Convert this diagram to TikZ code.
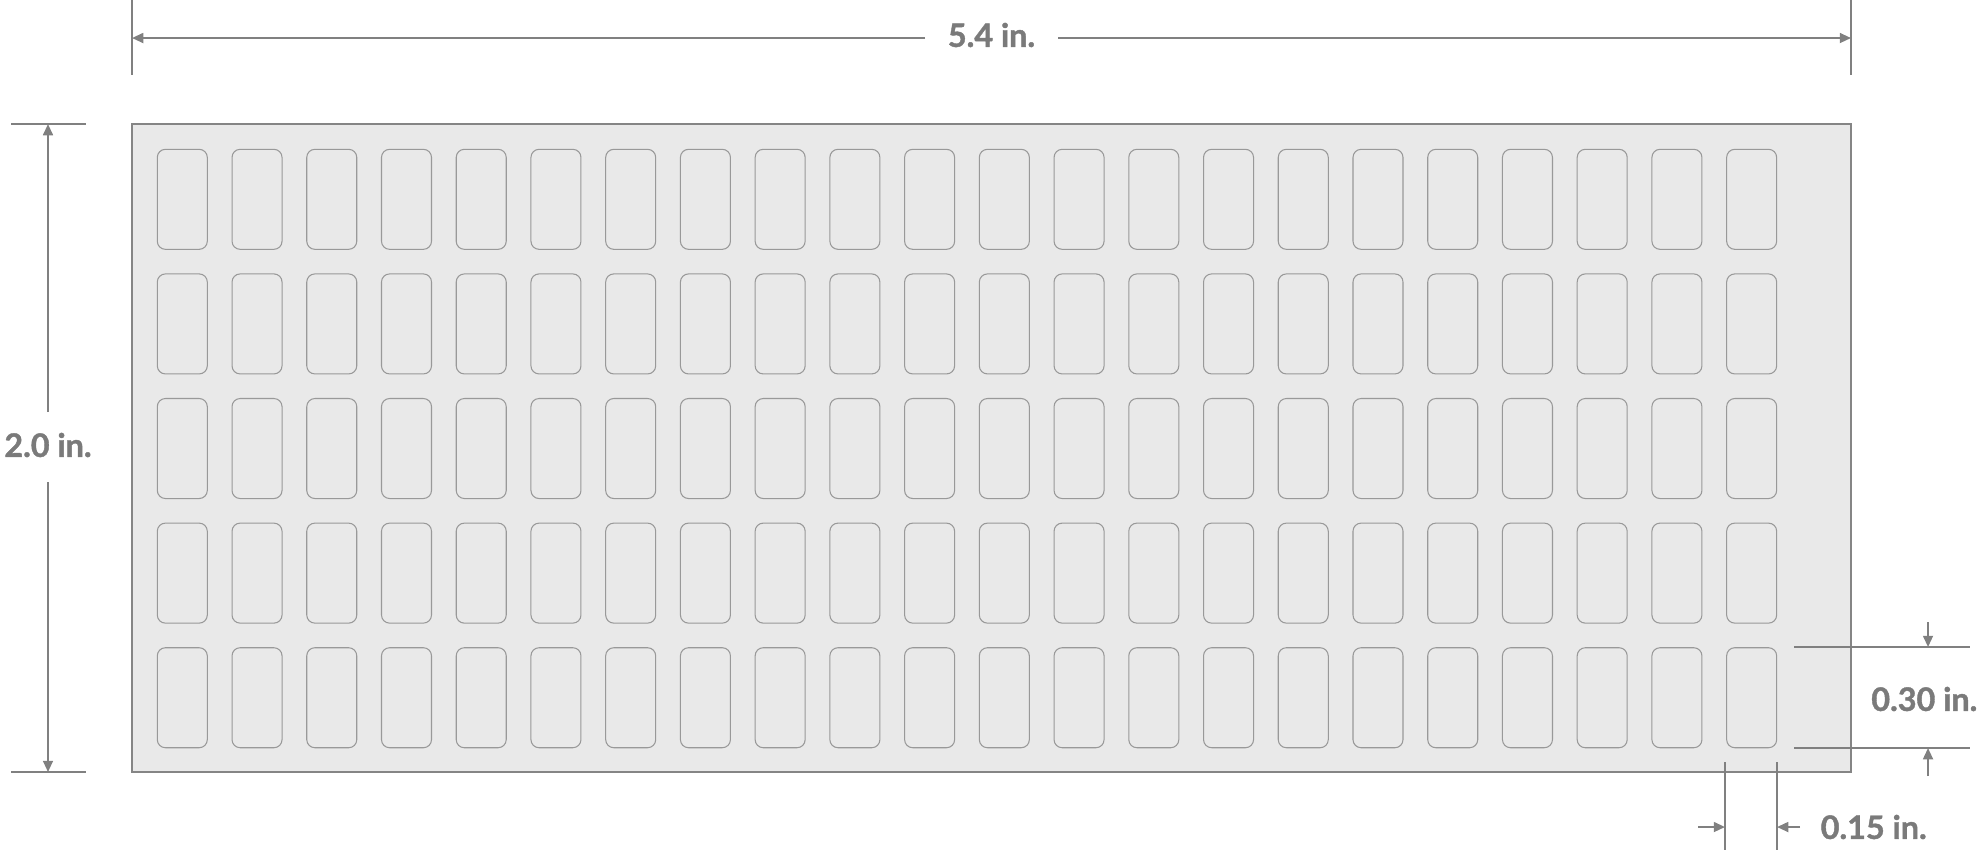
\documentclass[tikz,border=0pt]{standalone}
\usepackage{fontspec}
\setmainfont{Lato}[BoldFeatures={FakeBold=1.2}]
\usetikzlibrary{arrows.meta}
\begin{document}
\begin{tikzpicture}[x=0.01cm, y=-0.01cm,
    dim/.style={draw=dimgray, line width=0.6pt},
    dimarrow/.style={dim, -{Triangle[length=3.2pt, width=2.8pt]}},
    slot/.style={draw=slotgray, line width=0.3pt, rounded corners=2.3pt},
    dimlabel/.style={text=labelgray, font=\bfseries\fontsize{9.2}{11}\selectfont, inner sep=0pt}]
            \definecolor{dimgray}{gray}{0.5};
            \definecolor{slotgray}{gray}{0.6};
            \definecolor{labelgray}{gray}{0.48};
            \definecolor{panelgray}{gray}{0.915};
            \definecolor{panelborder}{gray}{0.52};
            \useasboundingbox (0,0) rectangle (1980,850);

            % tray with its pockets
            \draw [fill=panelgray, draw=panelborder, line width=0.6pt] (132,124) rectangle (1851,772);
            \foreach \c in {0,...,21}
              \foreach \r in {0,...,4}
                \draw [slot] ({157.3+74.73*\c},{149.3+124.6*\r}) rectangle +(50,100);

            % width
            \coordinate (wTickL) at (132,0);
            \coordinate (wTickR) at (1851,0);
            \coordinate (wEndL) at (132,38);
            \coordinate (wEndR) at (1851,38);
            \coordinate (wGapL) at (925,38);
            \coordinate (wGapR) at (1058,38);
            \draw [dim] (wTickL) -- (132,75);
            \draw [dim] (wTickR) -- (1851,75);
            \draw [dimarrow] (wGapL) -- (wEndL);
            \draw [dimarrow] (wGapR) -- (wEndR);
            \node[dimlabel] (widthlabel) at (991.5,35) {5.4 in.};

            % height
            \coordinate (hEndT) at (48,124);
            \coordinate (hEndB) at (48,772);
            \coordinate (hGapT) at (48,412);
            \coordinate (hGapB) at (48,482);
            \draw [dim] (11,124) -- (86,124);
            \draw [dim] (11,772) -- (86,772);
            \draw [dimarrow] (hGapT) -- (hEndT);
            \draw [dimarrow] (hGapB) -- (hEndB);
            \node[dimlabel] (heightlabel) at (48,445) {2.0 in.};

            % pocket height
            \coordinate (pTop) at (1928,647);
            \coordinate (pBot) at (1928,748);
            \draw [dim] (1794,647) -- (1970,647);
            \draw [dim] (1794,748) -- (1970,748);
            \draw [dimarrow] (1928,622) -- (pTop);
            \draw [dimarrow] (1928,776) -- (pBot);
            \node[dimlabel, anchor=east] (pocketh) at (1978,699) {0.30 in.};

            % pocket width
            \coordinate (pLeft) at (1725,827);
            \coordinate (pRight) at (1777,827);
            \draw [dim] (1725,762) -- (1725,850);
            \draw [dim] (1777,762) -- (1777,850);
            \draw [dimarrow] (1698,827) -- (pLeft);
            \draw [dimarrow] (1800,827) -- (pRight);
            \node[dimlabel, anchor=west] (pocketw) at (1820,827) {0.15 in.};

        \end{tikzpicture}
\end{document}
